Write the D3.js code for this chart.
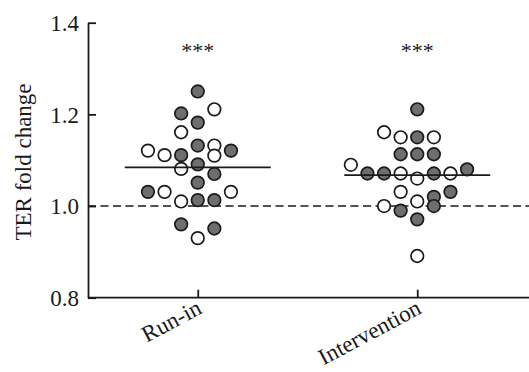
<!DOCTYPE html>
<html>
<head>
<meta charset="utf-8">
<script src="https://cdn.jsdelivr.net/npm/d3@7"></script>
<style>
  body { margin: 0; background: #fff; }
  svg text { font-family: "Liberation Serif", "Times New Roman", serif; fill: #1a1a1a; }
</style>
</head>
<body>
<svg id="chart" width="529" height="372"></svg>
<script>
// groups and axis ticks
var groups = ['Run-in', 'Intervention'];
var yTicks = [0.8, 1.0, 1.2, 1.4];
var stars = ['***', '***'];

// Run-in: fold change, filled (1) or open (0), swarm slot
var runinValues = [1.250, 1.211, 1.202, 1.182, 1.161, 1.132, 1.132, 1.121, 1.121, 1.111, 1.111, 1.110, 1.091,
                   1.081, 1.070, 1.051, 1.031, 1.031, 1.031, 1.010, 1.013, 1.013, 0.960, 0.951, 0.930];
var runinFilled = [1, 0, 1, 1, 0, 1, 0, 0, 1, 0, 1, 0, 1,
                   0, 1, 1, 1, 0, 0, 0, 1, 1, 1, 1, 0];
var runinSlot   = [0, 1, -1, 0, -1, 0, 1, -3, 2, -2, -1, 1, 0,
                   -1, 1, 0, -3, -2, 2, -1, 0, 1, -1, 1, 0];

// Intervention
var interValues = [1.211, 1.161, 1.150, 1.150, 1.150, 1.113, 1.113, 1.113, 1.090, 1.071, 1.071, 1.071, 1.060,
                   1.071, 1.071, 1.080, 1.031, 1.031, 1.020, 1.010, 1.000, 1.000, 0.990, 0.971, 0.891];
var interFilled = [1, 0, 0, 1, 0, 1, 1, 1, 0, 1, 1, 0, 0,
                   1, 0, 1, 0, 1, 1, 0, 0, 1, 1, 1, 0];
var interSlot   = [0, -2, -1, 0, 1, -1, 0, 1, -4, -3, -2, -1, 0,
                   1, 2, 3, -1, 2, 1, 0, -2, 1, -1, 0, 0];

var chartWidth = 529;
var plotLeft = 88, plotTop = 22.7, plotBottom = 297.7;
var fontSize = 23;

var svg = d3.select('#chart');

var y = d3.scaleLinear().domain([0.8, 1.4]).range([plotBottom, plotTop]);
var x = d3.scalePoint().domain(groups).range([plotLeft, 527]).padding(0.5);
var slot = d3.scaleLinear().domain([0, 1]).range([0, 16.6]);

var ink = '#1a1a1a';

// reference line at 1.0
svg.append('line')
    .attr('x1', plotLeft).attr('x2', chartWidth)
    .attr('y1', y(1.0)).attr('y2', y(1.0))
    .attr('stroke', ink)
    .attr('stroke-width', 1.6)
    .attr('stroke-dasharray', '8,4.5');

// x axis
var xAxis = svg.append('g')
    .attr('transform', 'translate(0,' + plotBottom + ')')
    .call(d3.axisBottom(x).tickSize(-8).tickSizeOuter(0));
xAxis.select('.domain').remove();
xAxis.append('line')
    .attr('x1', plotLeft).attr('x2', chartWidth)
    .attr('stroke', ink).attr('stroke-width', 1.8);
xAxis.selectAll('.tick line').attr('stroke', ink).attr('stroke-width', 1.8);
xAxis.selectAll('.tick text')
    .attr('x', 0).attr('y', 0).attr('dy', 0)
    .attr('text-anchor', 'end')
    .attr('transform', 'translate(5,15) rotate(-28)')
    .attr('font-size', fontSize)
    .attr('fill', ink);

// y axis
var yAxis = svg.append('g')
    .attr('transform', 'translate(' + plotLeft + ',0)')
    .call(d3.axisLeft(y).tickValues(yTicks).tickFormat(d3.format('.1f'))
        .tickSize(-8).tickSizeOuter(0).tickPadding(9));
yAxis.select('.domain').attr('stroke', ink).attr('stroke-width', 1.8);
yAxis.selectAll('.tick line').attr('stroke', ink).attr('stroke-width', 1.8);
yAxis.selectAll('.tick text')
    .attr('font-size', fontSize)
    .attr('dy', '0.34em')
    .attr('fill', ink);

svg.append('text')
    .attr('transform', 'translate(31,162) rotate(-90)')
    .attr('text-anchor', 'middle')
    .attr('font-size', fontSize)
    .text('TER fold change');

// dots per group
var sets = [
    { name: groups[0], values: runinValues, filled: runinFilled, slot: runinSlot },
    { name: groups[1], values: interValues, filled: interFilled, slot: interSlot }
];

sets.forEach(function(set, gi) {
    var pts = set.values.map(function(v, i) {
        return { v: v, filled: set.filled[i], s: set.slot[i] };
    });
    pts.sort(function(a, b) { return a.filled - b.filled; });

    var cx = x(set.name);

    svg.append('g').selectAll('circle')
        .data(pts)
        .enter()
        .append('circle')
            .attr('cx', function(d) { return cx + slot(d.s); })
            .attr('cy', function(d) { return y(d.v); })
            .attr('r', 6.3)
            .attr('fill', function(d) { return d.filled ? '#6e6e6e' : '#fff'; })
            .attr('stroke', ink)
            .attr('stroke-width', 1.7);

    // mean line
    var m = d3.mean(set.values);
    svg.append('line')
        .attr('x1', cx - 73).attr('x2', cx + 73)
        .attr('y1', y(m)).attr('y2', y(m))
        .attr('stroke', ink)
        .attr('stroke-width', 1.8);

    svg.append('text')
        .attr('x', cx)
        .attr('y', plotTop + 35)
        .attr('text-anchor', 'middle')
        .attr('font-size', 22)
        .text(stars[gi]);
});
</script>
</body>
</html>
